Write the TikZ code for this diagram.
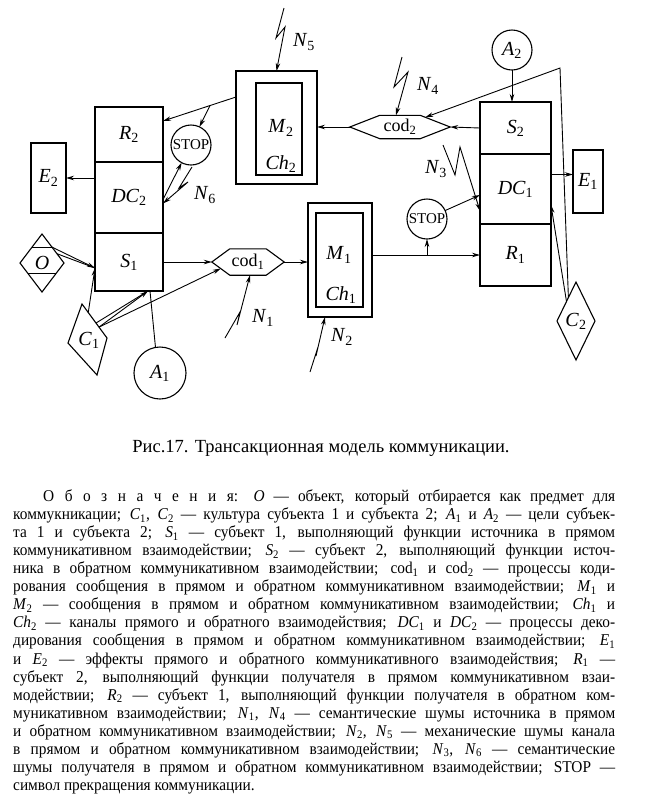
\documentclass[tikz,border=0pt]{standalone}
\usepackage{fontspec}
\setmainfont{Liberation Serif}
\newfontfamily\legfont[FakeStretch=0.93]{Liberation Serif}
\usetikzlibrary{shapes.geometric,arrows.meta,calc}
\newcommand\sy[2]{\textit{#1}\textsubscript{#2}}
\newcommand\legline[2]{\makebox[#1][s]{#2}}
\newcommand\lsp{\hspace{10.5pt}}
\begin{document}
\begin{tikzpicture}[x=1pt,y=-1pt,
  box/.style={draw, rectangle, inner sep=0pt, outer sep=0pt, line width=1.1pt},
  lab/.style={font=\fontsize{20}{20}\selectfont, inner sep=0pt},
  conn/.style={line width=0.9pt},
  arr/.style={conn, -{Stealth[length=8pt,width=4.5pt]}},
  ring/.style={circle, draw, line width=1.1pt, inner sep=0pt, outer sep=0pt},
  stopsign/.style={ring, minimum size=40pt, font=\fontsize{15}{15}\selectfont},
  leg/.style={anchor=base west, inner sep=0pt, font=\legfont\fontsize{16.5}{18}\selectfont}
]
\fill[white] (0,0) rectangle (649,807);
\path[use as bounding box] (0,0) rectangle (649,807);

% left column
\node[box, lab, minimum width=68pt, minimum height=55pt] (R2) at (129,134.5) {\sy{R}{2}};
\node[box, lab, minimum width=68pt, minimum height=71pt] (DC2) at (129,197.5) {\sy{DC}{2}};
\node[box, lab, minimum width=68pt, minimum height=58pt] (S1) at (129,262) {\sy{S}{1}};
\node[box, lab, minimum width=35pt, minimum height=70pt] (E2) at (48.5,178) {\sy{E}{2}};

% right column
\node[box, lab, minimum width=71pt, minimum height=52pt] (S2) at (515.5,128) {\sy{S}{2}};
\node[box, lab, minimum width=71pt, minimum height=70pt] (DC1) at (515.5,189) {\sy{DC}{1}};
\node[box, lab, minimum width=71pt, minimum height=62pt] (R1) at (515.5,255) {\sy{R}{1}};
\node[box, lab, minimum width=30pt, minimum height=63pt] (E1) at (588,181.5) {\sy{E}{1}};

% messages / channels
\node[box, minimum width=81pt, minimum height=113pt] (M2) at (276.5,127.5) {};
\node[box, minimum width=46pt, minimum height=92pt] (M2i) at (279,129) {};
\node[lab] (M2t) at (281,128) {\sy{M}{2}};
\node[lab] (Ch2t) at (281,164) {\sy{Ch}{2}};
\node[box, minimum width=64pt, minimum height=114pt] (M1) at (340,260) {};
\node[box, minimum width=47pt, minimum height=94pt] (M1i) at (339.5,260) {};
\node[lab] (M1t) at (339,255) {\sy{M}{1}};
\node[lab] (Ch1t) at (341,295) {\sy{Ch}{1}};

% coders
\node[inner sep=0pt, minimum width=72pt, minimum height=26pt, font=\fontsize{18}{18}\selectfont] (cod1) at (248,262) {cod\textsubscript{1}};
\draw[line width=1.1pt] (cod1.west) -- ($(cod1.north west)+(18,0)$) -- ($(cod1.north east)+(-18,0)$) -- (cod1.east) -- ($(cod1.south east)+(-18,0)$) -- ($(cod1.south west)+(18,0)$) -- cycle;
\node[inner sep=0pt, minimum width=100pt, minimum height=23pt, font=\fontsize{18}{18}\selectfont] (cod2) at (400,127) {cod\textsubscript{2}};
\draw[line width=1.1pt] (cod2.west) -- ($(cod2.north west)+(30,0)$) -- ($(cod2.north east)+(-30,0)$) -- (cod2.east) -- ($(cod2.south east)+(-30,0)$) -- ($(cod2.south west)+(30,0)$) -- cycle;

% stop signs, goals
\node[stopsign] (stopL) at (191,145) {\makebox[0pt]{STOP}};
\node[stopsign] (stopR) at (427,219) {\makebox[0pt]{STOP}};
\node[ring, lab, minimum size=52pt] (A1) at (160,373) {\sy{A}{1}};
\node[ring, lab, minimum size=40pt] (A2) at (512,50) {\sy{A}{2}};

% object O
\node[diamond, draw, line width=1.1pt, inner sep=0pt, outer sep=0pt, minimum width=44pt, minimum height=58pt, lab] (O) at (42,263) {\textit{O}};
\draw[line width=1pt] ($(O.center)+(-9.9,-16)$) -- ($(O.center)+(9.9,-16)$);
\draw[line width=1pt] ($(O.center)+(-14.4,10)$) -- ($(O.center)+(14.4,10)$);

% cultures
\coordinate (c1t) at (82,304);
\coordinate (c1r) at (107,338);
\coordinate (c1b) at (97,375);
\coordinate (c1l) at (68,343);
\draw[line width=1.1pt] (c1t) -- (c1r) -- (c1b) -- (c1l) -- cycle;
\node[lab] (C1) at (89,340) {\sy{C}{1}};
\node[diamond, draw, line width=1.1pt, inner sep=0pt, outer sep=0pt, minimum width=38pt, minimum height=78pt, lab] (C2) at (576,321) {\sy{C}{2}};

% ---- connectors, left part
\coordinate (s1in) at ($(S1.west)+(0,6)$);
\draw[arr] ($(O.north)!0.45!(O.east)$) -- (s1in);
\draw[conn] ($(O.north)!0.68!(O.east)$) -- (s1in);
\coordinate (c1v) at ($(c1t)!0.25!(c1r)$);
\draw[arr] (c1v) -- (s1in);
\coordinate (c1a) at ($(c1t)!0.68!(c1r)$);
\coordinate (c1a2) at ($(c1t)!0.56!(c1r)$);
\coordinate (s1b) at ($(S1.south)+(19,0)$);
\draw[arr] (c1a) -- (s1b);
\draw[conn] (c1a2) -- (s1b);
\draw[arr] (c1a) -- ($(cod1.west)+(9,6.5)$);
\draw[conn] (A1.100) -- ($(S1.south)+(21,0)$);
\draw[arr] (S1.east) -- (cod1.west);
\draw[arr] (cod1.east) -- (cod1.east -| M1.west);
\draw[arr] (E2.east -| DC2.west) -- (E2.east);

\coordinate (m2o) at ($(M2.north west)+(0,26)$);
\coordinate (r2in) at ($(R2.north east)+(0,14)$);
\draw[arr] (m2o) -- (r2in);
\draw[arr] ($(m2o)!0.356!(r2in)$) -- (stopL.65);
\draw[arr] ($(DC2.east)+(0,2)$) -- (stopL.242);

% noises
\coordinate (n1s) at (225,338);
\draw[arr] (n1s) -- ++(15,-26) -- ++(-3,13) -- ($(cod1.south)+(2,0)$);
\node[lab] (N1) at (263,318) {\sy{N}{1}};
\coordinate (n2s) at (310,372);
\draw[arr] (n2s) -- ++(8,-25) -- ++(-2,9) -- ($(M1.south)+(-15,0)$);
\node[lab] (N2) at (342,337) {\sy{N}{2}};
\coordinate (n5s) at (284,8);
\draw[arr] (n5s) -- ++(-8,30) -- ++(9,-11) -- (M2.north);
\node[lab] (N5) at (304,42) {\sy{N}{5}};
\coordinate (n6s) at (192,167);
\draw[arr] (n6s) -- ++(-13,21) -- ++(9,-6) -- ($(DC2.east)+(0,6)$);
\node[lab] (N6) at (205,195) {\sy{N}{6}};
\coordinate (n4s) at (402,57);
\draw[arr] (n4s) -- ++(-8,30) -- ++(14,-15) -- ($(cod2.north)+(-4,0)$);
\node[lab] (N4) at (428,86) {\sy{N}{4}};
\coordinate (n3s) at (443,145);
\draw[arr] (n3s) -- ++(12,30) -- ++(5,-28) -- ($(DC1.west)+(0,22)$);
\node[lab] (N3) at (436,169) {\sy{N}{3}};

% ---- connectors, right part
\draw[arr] (M1.east |- R1.west) -- (R1.west);
\draw[arr] (stopR.south |- R1.west) -- (stopR.south);
\draw[arr] (stopR.25) -- ($(DC1.west)+(0,6)$);
\draw[arr] (A2.south) -- (A2.south |- S2.north);
\draw[arr] (S2.west) -- (cod2.east);
\draw[arr] (cod2.west) -- (cod2.west -| M2.east);
\coordinate (c2a) at ($(C2.north)!0.4!(C2.west)$);
\coordinate (c2top) at (560,68);
\draw[arr] (c2a) -- (c2top) -- ($(cod2.north east)+(-25,2)$);
\draw[arr] ($(C2.north)!0.5!(C2.west)$) -- ($(DC1.east)+(0,16)$);
\coordinate (e1in) at ($(E1.west)+(0,-7)$);
\draw[arr] (DC1.east |- e1in) -- (e1in);

% caption
\node[anchor=base, inner sep=0pt, font=\fontsize{18.5}{20}\selectfont] (cap) at (321,452) {Рис.17. Трансакционная модель коммуникации.};

% legend
\node[leg] (l1) at (43,501.5) {\legline{572pt}{О\lsp б\lsp о\lsp з\lsp н\lsp а\lsp ч\lsp е\lsp н\lsp и\lsp я: \textit{O} — объект, который отбирается как предмет для}};
\node[leg] (l2) at (13,519.56) {\legline{602pt}{коммукникации; \sy{C}{1}, \sy{C}{2} — культура субъекта 1 и субъекта 2; \sy{A}{1} и \sy{A}{2} — цели субъек-}};
\node[leg] (l3) at (13,537.62) {\legline{602pt}{та 1 и субъекта 2; \sy{S}{1} — субъект 1, выполняющий функции источника в прямом}};
\node[leg] (l4) at (13,555.68) {\legline{602pt}{коммуникативном взаимодействии; \sy{S}{2} — субъект 2, выполняющий функции источ-}};
\node[leg] (l5) at (13,573.74) {\legline{602pt}{ника в обратном коммуникативном взаимодействии; cod\textsubscript{1} и cod\textsubscript{2} — процессы коди-}};
\node[leg] (l6) at (13,591.8) {\legline{602pt}{рования сообщения в прямом и обратном коммуникативном взаимодействии; \sy{M}{1} и}};
\node[leg] (l7) at (13,609.86) {\legline{602pt}{\sy{M}{2} — сообщения в прямом и обратном коммуникативном взаимодействии; \sy{Ch}{1} и}};
\node[leg] (l8) at (13,627.92) {\legline{602pt}{\sy{Ch}{2} — каналы прямого и обратного взаимодействия; \sy{DC}{1} и \sy{DC}{2} — процессы деко-}};
\node[leg] (l9) at (13,645.98) {\legline{602pt}{дирования сообщения в прямом и обратном коммуникативном взаимодействии; \sy{E}{1}}};
\node[leg] (l10) at (13,664.04) {\legline{602pt}{и \sy{E}{2} — эффекты прямого и обратного коммуникативного взаимодействия; \sy{R}{1} —}};
\node[leg] (l11) at (13,682.1) {\legline{602pt}{субъект 2, выполняющий функции получателя в прямом коммуникативном взаи-}};
\node[leg] (l12) at (13,700.16) {\legline{602pt}{модействии; \sy{R}{2} — субъект 1, выполняющий функции получателя в обратном ком-}};
\node[leg] (l13) at (13,718.22) {\legline{602pt}{муникативном взаимодействии; \sy{N}{1}, \sy{N}{4} — семантические шумы источника в прямом}};
\node[leg] (l14) at (13,736.28) {\legline{602pt}{и обратном коммуникативном взаимодействии; \sy{N}{2}, \sy{N}{5} — механические шумы канала}};
\node[leg] (l15) at (13,754.34) {\legline{602pt}{в прямом и обратном коммуникативном взаимодействии; \sy{N}{3}, \sy{N}{6} — семантические}};
\node[leg] (l16) at (13,772.4) {\legline{602pt}{шумы получателя в прямом и обратном коммуникативном взаимодействии; STOP —}};
\node[leg] (l17) at (13,790.46) {символ прекращения коммуникации.};
\end{tikzpicture}
\end{document}
